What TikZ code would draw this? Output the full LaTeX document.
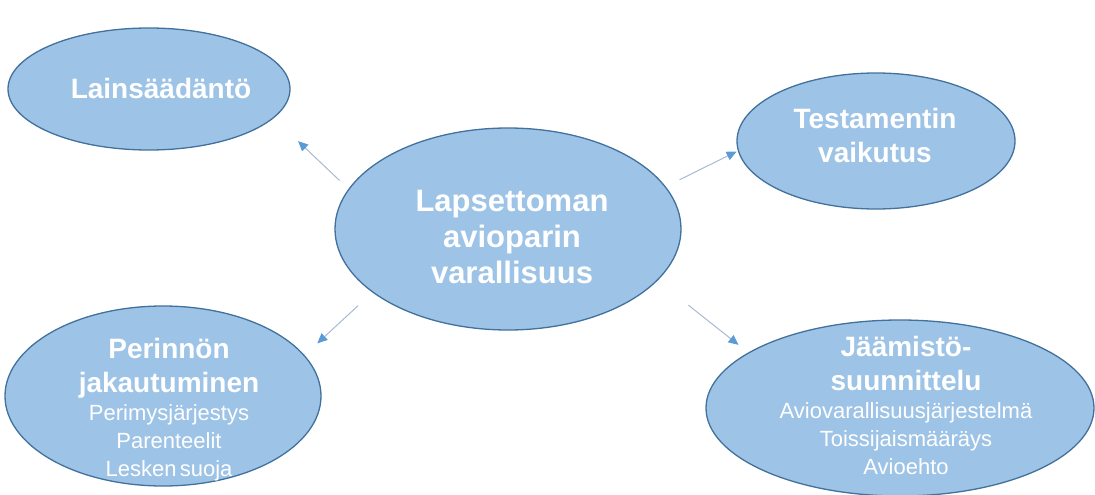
\documentclass[tikz,border=0pt]{standalone}
\usepackage{fontspec}
\setmainfont{Liberation Sans}
\usetikzlibrary{shapes.geometric,arrows.meta}
\definecolor{bubblefill}{HTML}{9DC3E6}
\definecolor{bubbleline}{HTML}{41719C}
\definecolor{linkline}{HTML}{A7BAD3}
\definecolor{linktip}{HTML}{5B9BD5}
\tikzset{
  bubble/.style={ellipse, draw=bubbleline, fill=bubblefill, line width=1.3pt,
    inner sep=0pt, outer sep=0pt},
  label text/.style={text=white, inner sep=0pt, align=center, text width=300pt},
  link/.style={draw=linkline, line width=1pt,
    -{Triangle[length=10pt,width=9pt,color=linktip]}}
}
\newcommand{\titlefont}{\fontsize{28}{34}\selectfont\bfseries}
\newcommand{\subfont}{\fontsize{22}{28}\selectfont\mdseries}
\begin{document}
\begin{tikzpicture}[x=1pt,y=-1pt]
\useasboundingbox (0,0) rectangle (1095,495);

% ellipses
\node[bubble, minimum width=282pt, minimum height=122pt] (law) at (149,89) {};
\node[bubble, minimum width=278pt, minimum height=136pt] (will) at (876,141) {};
\node[bubble, minimum width=346pt, minimum height=202pt] (core) at (508,229) {};
\node[bubble, minimum width=316pt, minimum height=180pt] (heir) at (163,396) {};
\node[bubble, minimum width=388pt, minimum height=176pt] (plan) at (900,408) {};

% texts
\node[label text] (lawtxt) at (161,88) {\titlefont Lainsäädäntö\par};
\node[label text] (willtxt) at (875,135) {\titlefont Testamentin\\vaikutus\par};
\node[label text] (coretxt) at (512,237) {\fontsize{31}{36}\selectfont\bfseries Lapsettoman\\avioparin\\varallisuus\par};
\node[label text] (heirtxt) at (169,410) {\titlefont Perinnön\\jakautuminen\par
  \subfont Perimysjärjestys\\Parenteelit\\Lesken suoja\par};
\node[label text] (plantxt) at (906,405) {\titlefont Jäämistö-\\suunnittelu\par
  \subfont Aviovarallisuusjärjestelmä\\Toissijaismääräys\\Avioehto\par};

% connectors
\draw[link, shorten <=13pt, shorten >=34pt] (core.166) -- (law.347);
\draw[link, shorten <=16pt, shorten >=2pt] (core.15) -- (will.184);
\draw[link, shorten <=20pt, shorten >=18pt] (core.205) -- (heir.16);
\draw[link, shorten <=40pt, shorten >=13pt] (core.341) -- (plan.160);
\end{tikzpicture}
\end{document}
